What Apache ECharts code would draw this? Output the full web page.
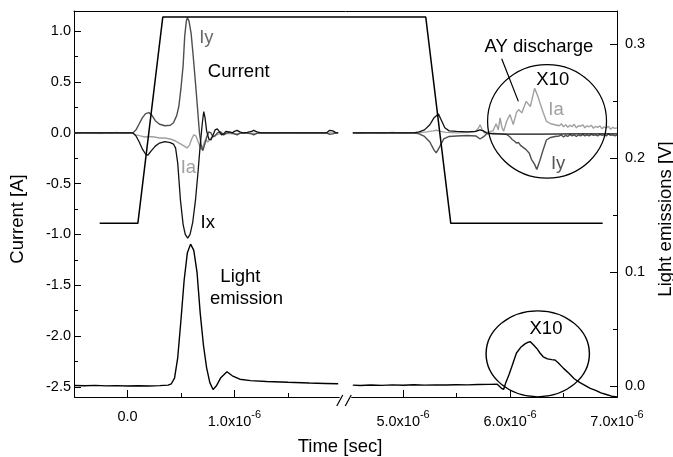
<!DOCTYPE html>
<html>
<head>
<meta charset="utf-8">
<script src="https://cdn.jsdelivr.net/npm/echarts@6/dist/echarts.min.js"></script>
<style>
  html, body { margin: 0; padding: 0; background: #fff; }
  #chart { width: 673px; height: 457px; }
</style>
</head>
<body>
<div id="chart"></div>
<script>
// Time is stored in microseconds; the axis labels print it as "n x10^-6" s.
const BREAK_FROM = 1.98;
const BREAK_TO = 4.52;

const TIME_TICKS = [0, 1, 5, 6, 7];
const TIME_MINOR_TICKS = [0.5, 1.5, 5.5, 6.5];
const CURRENT_TICKS = [-2.5, -2, -1.5, -1, -0.5, 0, 0.5, 1];
const CURRENT_MINOR_TICKS = [-2.25, -1.75, -1.25, -0.75, -0.25, 0.25, 0.75];
const LIGHT_TICKS = [0, 0.1, 0.2, 0.3];
const LIGHT_MINOR_TICKS = [0.05, 0.15, 0.25];

// Applied pulse (drawn against the current scale)
const PULSE = [[-0.26, -0.89], [0.097, -0.89], [0.33, 1.14], [5.212, 1.14], [5.446, -0.89], [6.866, -0.89]];

// Electrode currents [µs, A]
const IX_EARLY = [[-0.5, 0], [-0.3, 0], [0.0, 0], [0.05, 0], [0.08, -0.03], [0.11, -0.09], [0.14, -0.16], [0.17, -0.21],
  [0.19, -0.22], [0.22, -0.18], [0.26, -0.13], [0.30, -0.1], [0.35, -0.085], [0.40, -0.095], [0.43, -0.11], [0.45, -0.15],
  [0.47, -0.3], [0.495, -0.66], [0.52, -0.9], [0.54, -1.0], [0.563, -1.035], [0.585, -1.0], [0.61, -0.88], [0.636, -0.66],
  [0.66, -0.38], [0.68, -0.12], [0.70, 0.1], [0.713, 0.21], [0.725, 0.15], [0.74, 0.02], [0.76, -0.06], [0.78, -0.07],
  [0.80, -0.02], [0.82, 0.03], [0.84, 0.04], [0.86, 0.01], [0.88, -0.02], [0.90, -0.01], [0.92, 0.015], [0.95, 0.01],
  [0.98, 0.0], [1.0, 0.015], [1.025, 0.025], [1.05, 0.01], [1.08, 0.0], [1.12, 0.005], [1.16, 0.015], [1.18, 0.025],
  [1.21, 0.01], [1.25, 0.0], [1.4, 0.0], [1.6, 0.0], [1.86, 0.0], [1.89, 0.025], [1.92, 0.02], [1.95, 0.0], [1.97, 0.0]];
const IX_LATE = [[4.53, 0], [4.7, 0], [4.9, 0], [5.1, 0], [5.15, 0.01], [5.2, 0.03], [5.25, 0.08], [5.29, 0.15],
  [5.33, 0.187], [5.36, 0.12], [5.39, 0.05], [5.43, 0.02], [5.5, 0.015], [5.6, 0.01], [5.68, 0.015], [5.72, 0.03],
  [5.75, 0.02], [5.78, 0.0], [5.85, -0.01], [6.0, -0.012], [6.3, -0.012], [6.6, -0.01], [7.0, -0.01]];

const IY_EARLY = [[-0.5, 0], [0.0, 0], [0.05, 0], [0.08, 0.03], [0.11, 0.09], [0.14, 0.15], [0.17, 0.19], [0.20, 0.2],
  [0.23, 0.17], [0.26, 0.12], [0.30, 0.085], [0.35, 0.07], [0.40, 0.075], [0.43, 0.1], [0.46, 0.17], [0.48, 0.26],
  [0.50, 0.44], [0.52, 0.66], [0.535, 0.95], [0.55, 1.1], [0.56, 1.135], [0.575, 1.1], [0.595, 0.98], [0.615, 0.75],
  [0.636, 0.49], [0.655, 0.24], [0.673, 0.0], [0.69, -0.13], [0.705, -0.175], [0.72, -0.12], [0.74, -0.04], [0.76, 0.01],
  [0.78, 0.0], [0.80, -0.04], [0.82, -0.03], [0.84, 0.0], [0.87, 0.01], [0.90, -0.02], [0.93, 0.0], [0.97, 0.005],
  [1.0, -0.01], [1.025, -0.02], [1.05, -0.005], [1.1, 0.0], [1.16, -0.01], [1.18, -0.02], [1.21, -0.005], [1.25, 0.0],
  [1.5, 0.0], [1.86, 0.0], [1.89, -0.015], [1.92, -0.01], [1.95, 0.0], [1.97, 0.0]];
const IY_LATE = [[4.53, 0], [4.7, 0], [4.9, 0], [5.1, 0], [5.15, -0.01], [5.2, -0.035], [5.25, -0.09], [5.29, -0.17],
  [5.31, -0.197], [5.34, -0.14], [5.38, -0.06], [5.43, -0.035], [5.5, -0.03], [5.6, -0.025], [5.68, -0.03], [5.72, -0.06],
  [5.75, -0.04], [5.78, -0.01], [5.85, -0.005], [5.92, -0.01], [5.97, -0.016], [6.0, -0.04], [6.02, -0.065], [6.04, -0.08],
  [6.06, -0.1], [6.08, -0.095], [6.1, -0.125], [6.12, -0.14], [6.15, -0.165], [6.18, -0.2], [6.2, -0.26], [6.23, -0.31],
  [6.25, -0.36], [6.28, -0.27], [6.31, -0.165], [6.34, -0.07], [6.38, -0.045], [6.42, -0.035], [6.46, -0.03], [6.48, -0.02],
  [6.5, -0.04], [6.52, -0.025], [6.54, -0.035], [6.56, -0.015], [6.58, -0.03], [6.6, -0.02], [6.62, -0.035], [6.64, -0.02],
  [6.66, -0.03], [6.68, -0.015], [6.7, -0.03], [6.72, -0.02], [6.74, -0.03], [6.76, -0.015], [6.78, -0.025], [6.8, -0.02],
  [6.82, -0.03], [6.84, -0.015], [6.86, -0.025], [6.88, -0.02], [6.9, -0.03], [6.92, -0.01], [6.94, -0.025], [6.96, -0.02],
  [6.98, -0.03], [7.0, -0.02]];

const IA_EARLY = [[-0.5, 0.0], [-0.45, -0.005], [-0.4, 0.003], [-0.35, -0.004], [-0.3, 0.002], [-0.25, -0.006],
  [-0.2, 0.003], [-0.15, -0.003], [-0.1, 0.004], [-0.05, -0.004], [0.0, 0.002], [0.05, -0.005], [0.08, -0.02],
  [0.12, -0.03], [0.16, -0.04], [0.2, -0.035], [0.25, -0.04], [0.3, -0.05], [0.35, -0.05], [0.4, -0.06], [0.45, -0.08],
  [0.5, -0.11], [0.53, -0.13], [0.557, -0.148], [0.58, -0.12], [0.6, -0.06], [0.62, -0.02], [0.64, -0.03], [0.665, -0.1],
  [0.69, -0.165], [0.71, -0.12], [0.73, -0.066], [0.75, -0.09], [0.765, -0.1], [0.78, -0.05], [0.8, -0.03], [0.83, -0.02],
  [0.86, -0.01], [0.9, -0.005], [1.0, -0.01], [1.1, 0.0], [1.2, -0.005], [1.3, 0.002], [1.4, -0.004], [1.5, 0.003],
  [1.6, -0.003], [1.7, 0.002], [1.8, -0.004], [1.9, 0.0], [1.97, 0.0]];
const IA_LATE = [[4.53, 0.0], [4.6, -0.004], [4.7, 0.003], [4.8, -0.003], [4.9, 0.004], [5.0, -0.002], [5.1, 0.002],
  [5.15, 0.0], [5.22, 0.01], [5.28, 0.02], [5.31, 0.026], [5.35, 0.015], [5.4, 0.005], [5.5, 0.0], [5.6, 0.005],
  [5.67, 0.01], [5.7, 0.04], [5.72, 0.08], [5.74, 0.03], [5.76, 0.0], [5.8, 0.01], [5.84, 0.02], [5.87, 0.09], [5.89, 0.03],
  [5.907, 0.148], [5.925, 0.05], [5.94, 0.016], [5.97, 0.12], [6.0, 0.18], [6.03, 0.082], [6.06, 0.2], [6.08, 0.23],
  [6.11, 0.197], [6.15, 0.31], [6.19, 0.26], [6.23, 0.44], [6.26, 0.36], [6.28, 0.295], [6.31, 0.2], [6.34, 0.114],
  [6.38, 0.09], [6.42, 0.08], [6.46, 0.07], [6.48, 0.09], [6.5, 0.06], [6.52, 0.08], [6.54, 0.055], [6.56, 0.075],
  [6.58, 0.06], [6.6, 0.085], [6.62, 0.05], [6.64, 0.07], [6.66, 0.065], [6.68, 0.08], [6.7, 0.05], [6.72, 0.07],
  [6.74, 0.06], [6.76, 0.075], [6.78, 0.045], [6.8, 0.065], [6.82, 0.055], [6.84, 0.07], [6.86, 0.04], [6.88, 0.06],
  [6.9, 0.05], [6.92, 0.065], [6.94, 0.035], [6.96, 0.055], [6.98, 0.045], [7.0, 0.05]];

// Light emission [µs, V]
const LIGHT_EARLY = [[-0.5, 0.0005], [-0.4, 0.0003], [-0.3, 0.0006], [-0.2, 0.0002], [-0.1, 0.0004], [0.0, 0.0],
  [0.1, 0.0003], [0.2, 0.0001], [0.3, 0.0004], [0.38, 0.0008], [0.41, 0.002], [0.44, 0.007], [0.47, 0.025], [0.5, 0.058],
  [0.53, 0.093], [0.56, 0.117], [0.59, 0.1245], [0.62, 0.119], [0.65, 0.1], [0.68, 0.064], [0.71, 0.036], [0.74, 0.016],
  [0.77, 0.003], [0.8, -0.003], [0.83, 0.0], [0.87, 0.007], [0.93, 0.0125], [0.98, 0.009], [1.05, 0.006], [1.15, 0.0048],
  [1.3, 0.004], [1.5, 0.0033], [1.7, 0.0027], [1.85, 0.0023], [1.97, 0.002]];
const LIGHT_LATE = [[4.53, 0.0008], [4.6, 0.0005], [4.7, 0.0009], [4.8, 0.0006], [4.9, 0.001], [5.0, 0.0007],
  [5.1, 0.0011], [5.2, 0.0008], [5.3, 0.001], [5.4, 0.0009], [5.5, 0.0012], [5.6, 0.001], [5.7, 0.0013], [5.8, 0.0015],
  [5.88, 0.0016], [5.92, -0.002], [5.94, -0.003], [5.96, 0.003], [5.99, 0.01], [6.02, 0.018], [6.06, 0.029], [6.1, 0.034],
  [6.14, 0.037], [6.17, 0.0385], [6.19, 0.0389], [6.22, 0.036], [6.25, 0.033], [6.28, 0.029], [6.31, 0.0257],
  [6.35, 0.0238], [6.39, 0.0232], [6.42, 0.0228], [6.45, 0.0205], [6.5, 0.0155], [6.55, 0.0112], [6.6, 0.0064],
  [6.65, 0.0032], [6.7, 0.0006], [6.75, -0.002], [6.8, -0.0038], [6.85, -0.006], [6.9, -0.0074], [6.95, -0.0089],
  [7.0, -0.0096]];

const FONT = '"Liberation Sans", Arial, sans-serif';
const CURRENT_RANGE = [-2.6, 1.2];
const LIGHT_RANGE = [-0.0096, 0.329];
const TIME_RANGE = [-0.5, 7.0];

// Join the two time windows with an empty point so the traces stop at the axis break.
function joined(early, late) {
  return early.concat([[(BREAK_FROM + BREAK_TO) / 2, '-']], late);
}

const timeBreaks = [{ start: BREAK_FROM, end: BREAK_TO, gap: '2.3%' }];

function timeLabel(v) {
  if (v === 0) return '{m|0.0}';
  return '{m|' + v.toFixed(1) + 'x10}{s|-6}';
}

const chart = echarts.init(document.getElementById('chart'), null, { renderer: 'canvas' });

const lineBase = { type: 'line', symbol: 'none', showSymbol: false, silent: true, connectNulls: false };

chart.setOption({
  animation: false,
  textStyle: { fontFamily: FONT },
  grid: { left: 74, right: 56, top: 11, bottom: 60, containLabel: false, outerBoundsMode: 'none' },
  xAxis: [
    {
      type: 'value', min: TIME_RANGE[0], max: TIME_RANGE[1], position: 'bottom',
      breaks: timeBreaks, breakArea: { show: false },
      name: 'Time [sec]', nameLocation: 'middle', nameGap: 40,
      nameTextStyle: { fontSize: 18.5, color: '#000', fontFamily: FONT, padding: [0, 11, 0, 0] },
      axisLine: { show: true, onZero: false, lineStyle: { color: '#000', width: 1 } },
      axisTick: { show: true, inside: true, length: 7, customValues: TIME_TICKS, lineStyle: { color: '#000' } },
      axisLabel: {
        customValues: TIME_TICKS, margin: 12, formatter: timeLabel, fontSize: 14.5, color: '#000', fontFamily: FONT,
        rich: {
          m: { fontSize: 14.5, color: '#000', fontFamily: FONT },
          s: { fontSize: 11, color: '#000', fontFamily: FONT, padding: [0, 0, 14, 0] }
        }
      },
      splitLine: { show: false }
    },
    {
      type: 'value', min: TIME_RANGE[0], max: TIME_RANGE[1], position: 'bottom',
      breaks: timeBreaks, breakArea: { show: false },
      axisLine: { show: false, onZero: false },
      axisTick: { show: true, inside: true, length: 4, customValues: TIME_MINOR_TICKS, lineStyle: { color: '#000' } },
      axisLabel: { show: false },
      splitLine: { show: false }
    },
    {
      type: 'value', min: TIME_RANGE[0], max: TIME_RANGE[1], position: 'top',
      axisLine: { show: true, onZero: false, lineStyle: { color: '#000', width: 1 } },
      axisTick: { show: false }, axisLabel: { show: false }, splitLine: { show: false }
    }
  ],
  yAxis: [
    {
      type: 'value', min: CURRENT_RANGE[0], max: CURRENT_RANGE[1], position: 'left',
      name: 'Current [A]', nameLocation: 'middle', nameGap: 47, nameRotate: 90,
      nameTextStyle: { fontSize: 18.5, color: '#000', fontFamily: FONT, padding: [0, 30, 0, 0] },
      axisLine: { show: true, onZero: false, lineStyle: { color: '#000', width: 1 } },
      axisTick: { show: true, inside: true, length: 7, customValues: CURRENT_TICKS, lineStyle: { color: '#000' } },
      axisLabel: { customValues: CURRENT_TICKS, margin: 3, fontSize: 14.5, color: '#000', formatter: v => v.toFixed(1) },
      splitLine: { show: false }
    },
    {
      type: 'value', min: LIGHT_RANGE[0], max: LIGHT_RANGE[1], position: 'right',
      name: 'Light emissions [V]', nameLocation: 'middle', nameGap: 27, nameRotate: 90,
      nameTextStyle: { fontSize: 18.5, color: '#000', fontFamily: FONT, padding: [0, 30, 0, 0] },
      axisLine: { show: true, onZero: false, lineStyle: { color: '#000', width: 1 } },
      axisTick: { show: true, inside: true, length: 7, customValues: LIGHT_TICKS, lineStyle: { color: '#000' } },
      axisLabel: { customValues: LIGHT_TICKS, margin: 8, fontSize: 14.5, color: '#000', formatter: v => v.toFixed(1) },
      splitLine: { show: false }
    },
    {
      type: 'value', min: CURRENT_RANGE[0], max: CURRENT_RANGE[1], position: 'left',
      axisLine: { show: false, onZero: false },
      axisTick: { show: true, inside: true, length: 4, customValues: CURRENT_MINOR_TICKS, lineStyle: { color: '#000' } },
      axisLabel: { show: false }, splitLine: { show: false }
    },
    {
      type: 'value', min: LIGHT_RANGE[0], max: LIGHT_RANGE[1], position: 'right',
      axisLine: { show: false, onZero: false },
      axisTick: { show: true, inside: true, length: 4, customValues: LIGHT_MINOR_TICKS, lineStyle: { color: '#000' } },
      axisLabel: { show: false }, splitLine: { show: false }
    }
  ],
  series: [
    Object.assign({}, lineBase, { name: 'Ia', data: joined(IA_EARLY, IA_LATE), xAxisIndex: 0, yAxisIndex: 0,
      lineStyle: { color: '#a0a0a0', width: 1.4 }, z: 2 }),
    Object.assign({}, lineBase, { name: 'Iy', data: joined(IY_EARLY, IY_LATE), xAxisIndex: 0, yAxisIndex: 0,
      lineStyle: { color: '#4e4e4e', width: 1.4 }, z: 3 }),
    Object.assign({}, lineBase, { name: 'Ix', data: joined(IX_EARLY, IX_LATE), xAxisIndex: 0, yAxisIndex: 0,
      lineStyle: { color: '#111', width: 1.3 }, z: 4 }),
    Object.assign({}, lineBase, { name: 'Pulse', data: PULSE, xAxisIndex: 0, yAxisIndex: 0,
      lineStyle: { color: '#000', width: 1.5 }, z: 5 }),
    Object.assign({}, lineBase, { name: 'Light emission', data: joined(LIGHT_EARLY, LIGHT_LATE), xAxisIndex: 0, yAxisIndex: 1,
      lineStyle: { color: '#000', width: 1.4 }, z: 5 })
  ]
});

// Annotations placed in data units and converted through the axes.
const px = t => chart.convertToPixel({ xAxisIndex: 0 }, t);
const pyI = v => chart.convertToPixel({ yAxisIndex: 0 }, v);
const pyL = v => chart.convertToPixel({ yAxisIndex: 1 }, v);

function text(str, x, y, color) {
  return {
    type: 'text', x: x, y: y, silent: true, z: 20,
    style: { text: str, fill: color, font: '18.5px ' + FONT, textAlign: 'center', textVerticalAlign: 'middle' }
  };
}

function ellipse(cx, cy, rx, ry) {
  return {
    type: 'circle', x: cx, y: cy, scaleX: rx / ry, scaleY: 1, silent: true, z: 20,
    shape: { cx: 0, cy: 0, r: ry },
    style: { fill: 'none', stroke: '#000', lineWidth: 1.2, strokeNoScale: true }
  };
}

const axisY = pyI(CURRENT_RANGE[0]);
const b1 = px(BREAK_FROM);
const b2 = px(BREAK_TO);

const upperCx = px(6.346), upperCy = pyI(0.114);
const lowerCx = px(6.259), lowerCy = pyL(0.0283);

chart.setOption({
  graphic: [
    text('Iy', px(0.738), pyI(0.94), '#6a6a6a'),
    text('Current', px(1.04), pyI(0.6), '#000'),
    text('Ia', px(0.57), pyI(-0.34), '#a0a0a0'),
    text('Ix', px(0.75), pyI(-0.885), '#000'),
    text('Light', px(1.056), pyL(0.0956), '#000'),
    text('emission', px(1.112), pyL(0.0763), '#000'),
    text('AY discharge', px(6.27), pyI(0.85), '#000'),
    text('X10', px(6.4), pyI(0.526), '#000'),
    text('Ia', px(6.43), pyI(0.23), '#a0a0a0'),
    text('Iy', px(6.45), pyI(-0.31), '#555'),
    text('X10', px(6.336), pyL(0.05), '#000'),
    ellipse(upperCx, upperCy, px(6.346 + 0.556) - upperCx, pyI(0.114) - pyI(0.114 + 0.559)),
    ellipse(lowerCx, lowerCy, px(6.259 + 0.483) - lowerCx, pyL(0.0283) - pyL(0.0283 + 0.0377)),
    {
      type: 'line', silent: true, z: 20,
      shape: { x1: px(5.922), y1: pyI(0.73), x2: px(6.078), y2: pyI(0.31) },
      style: { stroke: '#000', lineWidth: 1.2 }
    },
    // axis break marks
    {
      type: 'rect', silent: true, z: 30,
      shape: { x: b1 + 0.5, y: axisY - 2, width: b2 - b1 - 1, height: 4 },
      style: { fill: '#fff' }
    },
    {
      type: 'line', silent: true, z: 31,
      shape: { x1: b1 - 2.5, y1: axisY + 9, x2: b1 + 3.5, y2: axisY - 2 },
      style: { stroke: '#000', lineWidth: 1.2 }
    },
    {
      type: 'line', silent: true, z: 31,
      shape: { x1: b2 - 6.5, y1: axisY + 9, x2: b2 - 0.5, y2: axisY - 2 },
      style: { stroke: '#000', lineWidth: 1.2 }
    }
  ]
});
</script>
</body>
</html>
